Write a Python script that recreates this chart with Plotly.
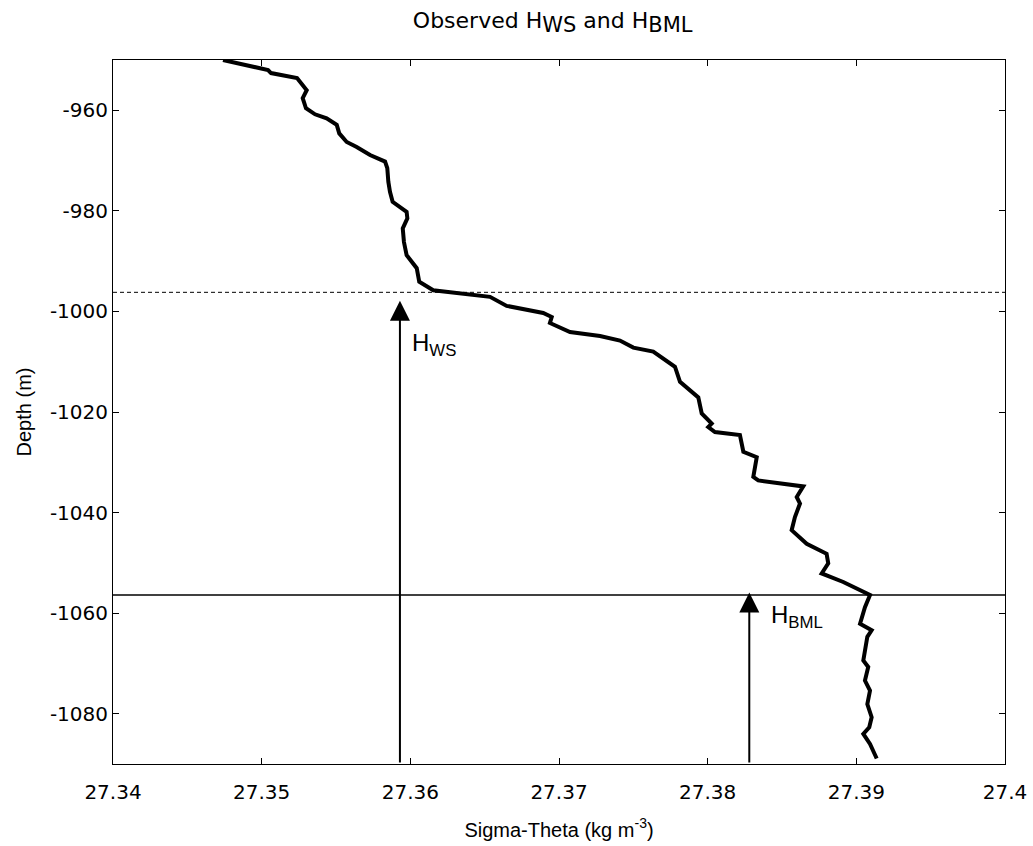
import plotly.graph_objects as go

# Sigma-theta profile (kg m^-3) and depth (m)
sigma_theta = [27.34740, 27.35002, 27.35043, 27.35063, 27.35238, 27.35303, 27.35276, 27.35298,
               27.35359, 27.35437, 27.35505, 27.35522, 27.35572, 27.35639, 27.35729, 27.35830,
               27.35845, 27.35852, 27.35863, 27.35881, 27.35975, 27.35980, 27.35949, 27.35957,
               27.35975, 27.36043, 27.36060, 27.36154, 27.36267, 27.36379, 27.36536, 27.36648,
               27.36894, 27.36951, 27.36939, 27.37074, 27.37276, 27.37410, 27.37500, 27.37634,
               27.37780, 27.37814, 27.37937, 27.37960, 27.38027, 27.38004, 27.38049, 27.38217,
               27.38240, 27.38330, 27.38307, 27.38340, 27.38643, 27.38599, 27.38621, 27.38587,
               27.38565, 27.38666, 27.38800, 27.38811, 27.38767, 27.38912, 27.39092, 27.39058,
               27.39025, 27.39103, 27.39074, 27.39047, 27.39080, 27.39058, 27.39092, 27.39074,
               27.39103, 27.39087, 27.39047, 27.39092, 27.39137]
depth = [-950.0, -951.6, -952.0, -952.6, -953.6, -956.0, -957.6, -959.6,
         -960.8, -961.6, -962.9, -964.6, -966.3, -967.3, -968.9, -970.2,
         -971.5, -974.2, -976.2, -978.2, -980.2, -981.5, -983.5, -986.2,
         -988.8, -991.4, -994.1, -995.8, -996.2, -996.6, -997.1, -998.9,
         -1000.3, -1001.1, -1002.3, -1004.1, -1004.9, -1005.8, -1007.2, -1008.0,
         -1011.0, -1014.0, -1017.1, -1020.3, -1022.3, -1023.0, -1024.0, -1024.6,
         -1027.9, -1029.0, -1032.9, -1033.6, -1034.8, -1036.9, -1038.2, -1040.9,
         -1043.5, -1046.2, -1048.2, -1050.1, -1052.1, -1053.8, -1056.4, -1058.8,
         -1062.1, -1063.4, -1064.7, -1069.4, -1070.7, -1073.4, -1075.4, -1078.1,
         -1080.7, -1082.7, -1084.0, -1086.0, -1088.9]

h_ws = -996.2
h_bml = -1056.4
arrow_ws_x = 27.3593
arrow_ws_tip = -997.9
arrow_bml_x = 27.3828
arrow_bml_tip = -1055.9
x_range = [27.34, 27.40]
y_range = [-1090, -950]

x_ticks = [27.34, 27.35, 27.36, 27.37, 27.38, 27.39, 27.40]
x_ticktext = ["27.34", "27.35", "27.36", "27.37", "27.38", "27.39", "27.4"]
y_ticks = [-960, -980, -1000, -1020, -1040, -1060, -1080]
y_ticktext = ["-960", "-980", "-1000", "-1020", "-1040", "-1060", "-1080"]

FONT = "Liberation Sans, Arial, sans-serif"
WIDE = "DejaVu Sans, Liberation Sans, sans-serif"

fig = go.Figure()
fig.add_trace(go.Scatter(x=sigma_theta, y=depth, mode="lines",
                         line=dict(color="black", width=4), showlegend=False,
                         hoverinfo="skip"))
fig.add_trace(go.Scatter(x=x_range, y=[h_ws, h_ws], mode="lines",
                         line=dict(color="black", width=1, dash="4px,3px"),
                         showlegend=False, hoverinfo="skip"))
fig.add_trace(go.Scatter(x=x_range, y=[h_bml, h_bml], mode="lines",
                         line=dict(color="black", width=1.5),
                         showlegend=False, hoverinfo="skip"))

for ax_x, tip in [(arrow_ws_x, arrow_ws_tip), (arrow_bml_x, arrow_bml_tip)]:
    fig.add_annotation(x=ax_x, y=tip, ax=ax_x, ay=y_range[0], xref="x", yref="y",
                       axref="x", ayref="y", text="", showarrow=True,
                       arrowhead=2, arrowsize=2, arrowwidth=2, arrowcolor="black")

fig.add_annotation(x=27.3600, y=h_ws - 10.3, xref="x", yref="y", text="H<sub>WS</sub>",
                   showarrow=False, xanchor="left", yanchor="middle",
                   font=dict(family=FONT, size=24, color="black"))
fig.add_annotation(x=27.3841, y=h_bml - 4.2, xref="x", yref="y", text="H<sub>BML</sub>",
                   showarrow=False, xanchor="left", yanchor="middle",
                   font=dict(family=FONT, size=24, color="black"))

axis_common = dict(showgrid=False, zeroline=False, showline=True, linecolor="black",
                   linewidth=1, mirror="ticks", ticks="inside", ticklen=6, automargin=False,
                   tickcolor="black", tickfont=dict(family=WIDE, size=20, color="black"))

title_text = ("Observed H<sub><span style='font-size:21px'>WS</span></sub> and "
              "H<sub><span style='font-size:21px'>BML</span></sub>")

fig.update_layout(
    width=1033, height=846,
    margin=dict(l=113, r=28, t=60, b=82),
    paper_bgcolor="white", plot_bgcolor="white",
    title=dict(text=title_text, x=0.535, xanchor="center",
               y=1 - 20 / 846, yanchor="middle", yref="container",
               font=dict(family=WIDE, size=22, color="black")),
    xaxis=dict(range=x_range, tickvals=x_ticks, ticktext=x_ticktext, ticklabelstandoff=10,
               title=dict(text="Sigma-Theta (kg m<sup>-3</sup>)", standoff=19,
                          font=dict(family=FONT, size=20, color="black")),
               **axis_common),
    yaxis=dict(range=y_range, tickvals=y_ticks, ticktext=y_ticktext,
               title=dict(text="Depth (m)", standoff=12,
                          font=dict(family=FONT, size=20, color="black")),
               **axis_common),
)

fig.write_html("out.html")
